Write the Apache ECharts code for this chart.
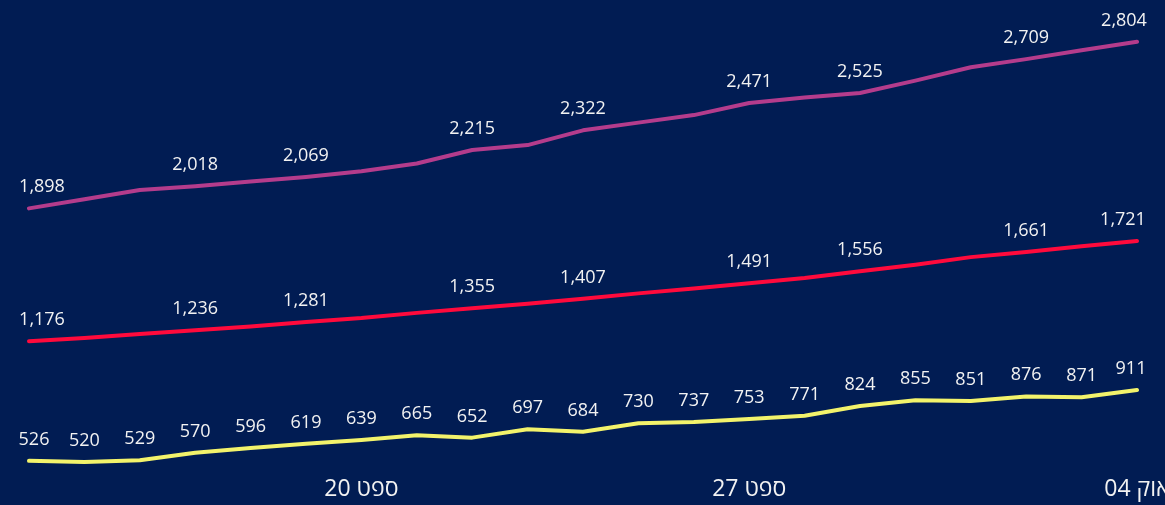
<!DOCTYPE html>
<html>
<head>
<meta charset="utf-8">
<script src="https://cdn.jsdelivr.net/npm/echarts@6/dist/echarts.min.js"></script>
<style>
html,body{margin:0;padding:0;background:#011C53;}
#chart{width:1165px;height:505px;}
</style>
</head>
<body>
<div id="chart"></div>
<script>
const categories = [
  "ספט 14","ספט 15","ספט 16","ספט 17","ספט 18","ספט 19","ספט 20",
  "ספט 21","ספט 22","ספט 23","ספט 24","ספט 25","ספט 26","ספט 27",
  "ספט 28","ספט 29","ספט 30","אוק 01","אוק 02","אוק 03","אוק 04"
];
const purpleValues = [1898,1948,1998,2018,2044,2069,2100,2142,2215,2242,2322,2364,2405,2471,2500,2525,2592,2665,2709,2757,2804];
const redValues    = [1176,1193,1215,1236,1256,1281,1302,1330,1355,1380,1407,1436,1463,1491,1520,1556,1592,1633,1661,1692,1721];
const yellowValues = [526,520,529,570,596,619,639,665,652,697,684,730,737,753,771,824,855,851,876,871,911];
const sparseLabelIdx = [0,3,5,8,10,13,15,18,20];
const axisLabelIdx = [6,13,20];

const FONT = '"Segoe UI","Open Sans","DejaVu Sans",sans-serif';
const TEXT = '#F2F2F2';

function buildData(values, labelIdx) {
  return values.map((v, i) => ({
    value: v,
    label: { show: labelIdx ? labelIdx.includes(i) : true }
  }));
}

function lineSeries(name, values, color, labelIdx, firstShift, lastShift) {
  const last = values.length - 1;
  return {
    name: name,
    type: 'line',
    data: buildData(values, labelIdx),
    symbol: 'circle',
    symbolSize: 0.5,
    showSymbol: true,
    showAllSymbol: true,
    smooth: false,
    lineStyle: { color: color, width: 4, cap: 'round', join: 'round' },
    itemStyle: { color: color },
    label: {
      show: true,
      position: 'top',
      distance: 12,
      color: TEXT,
      fontFamily: FONT,
      fontSize: 18,
      formatter: p => Number(p.value).toLocaleString('en-US')
    },
    labelLayout: (p) => ({
      hideOverlap: false,
      dx: p.dataIndex === 0 ? firstShift : (p.dataIndex === last ? lastShift : 0)
    }),
    animation: false
  };
}

const chart = echarts.init(document.getElementById('chart'), null, { renderer: 'canvas' });
chart.setOption({
  backgroundColor: '#011C53',
  animation: false,
  grid: { left: 29, right: 28, top: 24, bottom: 21, containLabel: false, outerBoundsMode: 'none' },
  xAxis: {
    type: 'category',
    data: categories,
    boundaryGap: false,
    axisLine: { show: false },
    axisTick: { show: false },
    splitLine: { show: false },
    axisLabel: {
      color: TEXT,
      fontFamily: FONT,
      fontSize: 23,
      margin: -6,
      interval: (i) => axisLabelIdx.includes(i)
    }
  },
  yAxis: {
    type: 'value',
    min: 400,
    max: 2900,
    show: false,
    splitLine: { show: false }
  },
  series: [
    lineSeries('purple', purpleValues, '#B43C8C', sparseLabelIdx, 13, -13),
    lineSeries('red', redValues, '#FF0A3C', sparseLabelIdx, 13, -14),
    lineSeries('yellow', yellowValues, '#F3F36B', null, 5, -6)
  ]
});
</script>
</body>
</html>
